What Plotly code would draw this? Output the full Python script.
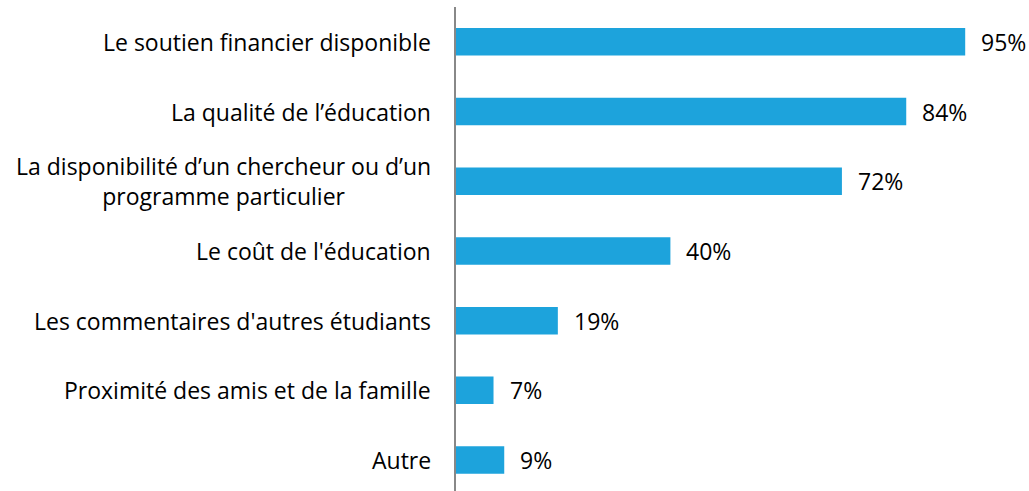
import plotly.graph_objects as go

categories = [
    "Le soutien financier disponible",
    "La qualité de l’éducation",
    "La disponibilité d’un chercheur ou d’un<br>programme particulier",
    "Le coût de l'éducation",
    "Les commentaires d'autres étudiants",
    "Proximité des amis et de la famille",
    "Autre",
]
values = [95, 84, 72, 40, 19, 7, 9]
value_labels = ["95%", "84%", "72%", "40%", "19%", "7%", "9%"]

FONT = "Open Sans"
FS = 23
BAR_COLOR = "#1DA3DC"

fig = go.Figure()
fig.add_trace(go.Bar(
    x=values,
    y=categories,
    orientation="h",
    marker=dict(color=BAR_COLOR, line=dict(width=0)),
    width=0.395,
    hoverinfo="skip",
))

annotations = []
for cat, val, lab in zip(categories, values, value_labels):
    annotations.append(dict(
        x=0, xref="paper", y=cat, yref="y",
        text=cat, showarrow=False, xanchor="right", yanchor="middle",
        xshift=-23, align="center",
        font=dict(family=FONT, size=FS, color="#000000"),
    ))
    annotations.append(dict(
        x=val, xref="x", y=cat, yref="y",
        text=lab, showarrow=False, xanchor="left", yanchor="middle",
        xshift=14,
        font=dict(family=FONT, size=FS, color="#000000"),
    ))

fig.update_layout(
    width=1029, height=491,
    margin=dict(l=456, r=37, t=7, b=0),
    paper_bgcolor="white", plot_bgcolor="white",
    showlegend=False,
    annotations=annotations,
    xaxis=dict(range=[0, 100], visible=False, fixedrange=True),
    yaxis=dict(
        type="category",
        categoryorder="array", categoryarray=categories,
        range=[6.444, -0.5],
        showline=True, linecolor="#888888", linewidth=2,
        showticklabels=False, ticks="", showgrid=False, zeroline=False,
        fixedrange=True,
    ),
)

fig.write_html("out.html", config={"displayModeBar": False},
               post_script="document.body.style.margin='0';document.body.style.overflow='hidden';")
